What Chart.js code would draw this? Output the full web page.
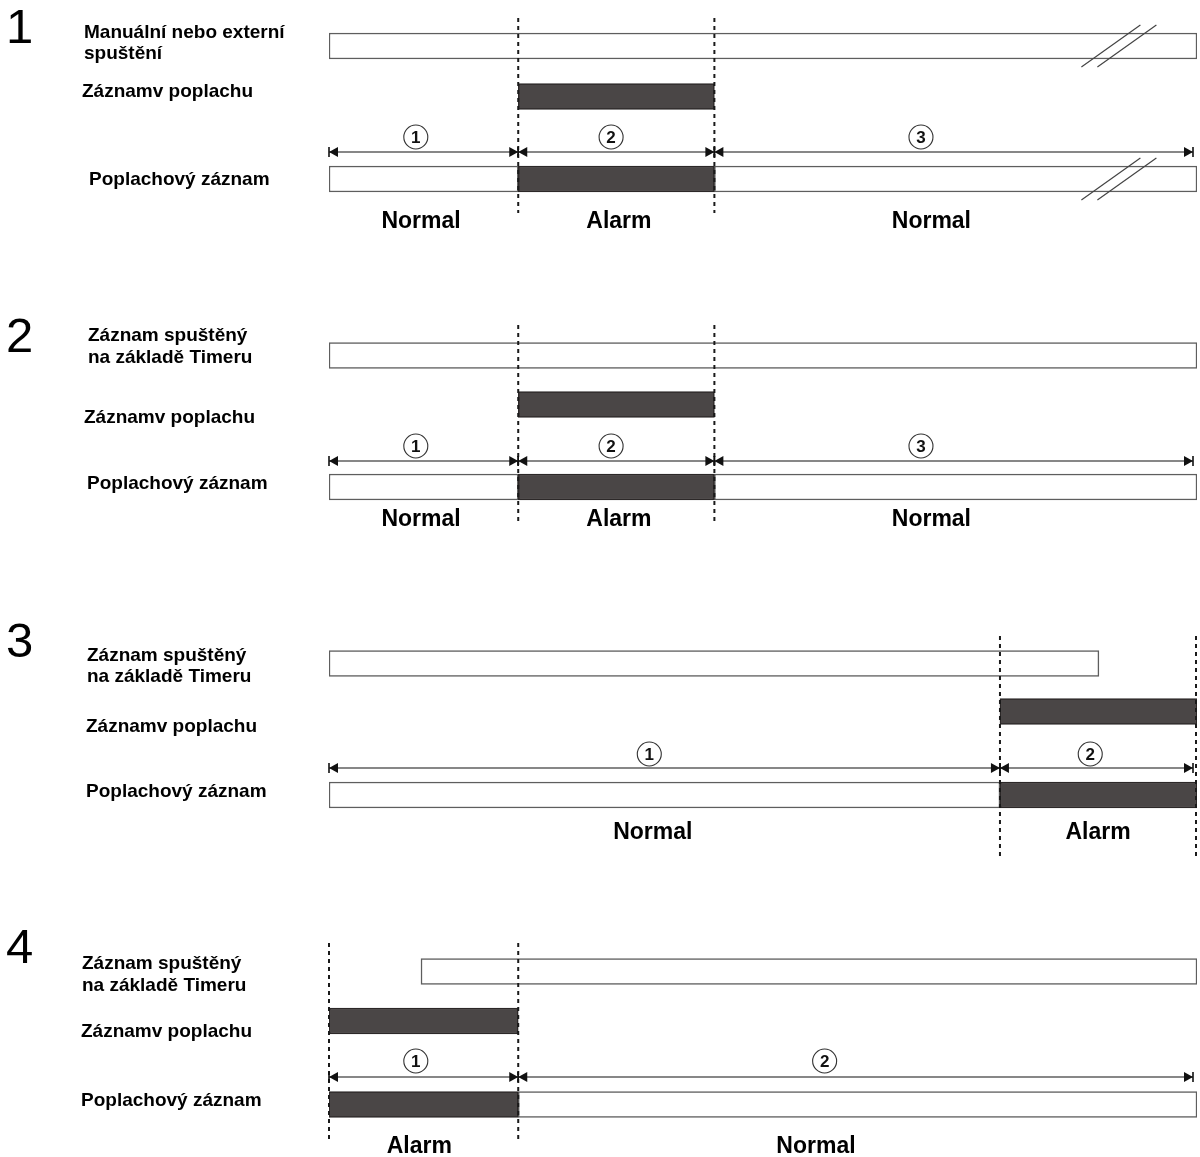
<!DOCTYPE html>
<html>
<head>
<meta charset="utf-8">
<script src="https://cdn.jsdelivr.net/npm/chart.js@4.4.0/dist/chart.umd.min.js"></script>
<style>
  html, body { margin: 0; padding: 0; background: #fff; }
  canvas { display: block; }
</style>
</head>
<body>
<canvas id="timing" width="1200" height="1157"></canvas>
<script>
// Time runs 0..100 across the recording bar in every panel.
const panelNumbers = ['1', '2', '3', '4'];
const triggerNames = [
  ['Manuální nebo externí', 'spuštění'],
  ['Záznam spuštěný', 'na základě Timeru'],
  ['Záznam spuštěný', 'na základě Timeru'],
  ['Záznam spuštěný', 'na základě Timeru'],
];
const alarmName = 'Záznamv poplachu';
const recordName = 'Poplachový záznam';

const triggerIntervals = [[0, 100], [0, 100], [0, 88.7], [10.6, 100]];
const alarmIntervals = [[21.8, 44.4], [21.8, 44.4], [77.3, 100], [0, 21.8]];
const recordBounds = [[0, 21.8, 44.4, 100], [0, 21.8, 44.4, 100], [0, 77.3, 100], [0, 21.8, 100]];
const recordStates = [['Normal', 'Alarm', 'Normal'], ['Normal', 'Alarm', 'Normal'], ['Normal', 'Alarm'], ['Alarm', 'Normal']];
const segmentMarkAt = [[10.0, 32.5, 68.2], [10.0, 32.5, 68.2], [36.9, 87.7], [10.0, 57.1]];
const stateLabelAt = [[10.6, 33.4, 69.4], [10.6, 33.4, 69.4], [37.3, 88.6], [10.4, 56.1]];
const breakAt = [91.0, null, null, null];

// Vertical layout of each panel, in pixels.
const PANELS = [
  { num: 43, trig: 46, alarm: 96.5, arrow: 152, circle: 137, record: 179, state: 228, dash: [18, 213],
    trigX: 84, trigY: [38, 59], alarmX: 82, alarmY: 97, recordX: 89, recordY: 185 },
  { num: 352, trig: 355.5, alarm: 404.5, arrow: 461, circle: 446, record: 487, state: 526, dash: [325, 522],
    trigX: 88, trigY: [341, 363], alarmX: 84, alarmY: 423, recordX: 87, recordY: 489 },
  { num: 657, trig: 663.5, alarm: 711.5, arrow: 768, circle: 754, record: 795, state: 839, dash: [636, 858],
    trigX: 87, trigY: [661, 682], alarmX: 86, alarmY: 732, recordX: 86, recordY: 797 },
  { num: 963, trig: 971.5, alarm: 1021, arrow: 1077, circle: 1061, record: 1104.5, state: 1153, dash: [943, 1140],
    trigX: 82, trigY: [969, 991], alarmX: 81, alarmY: 1037, recordX: 81, recordY: 1106 },
];

const FONT = '"Liberation Sans", Arial, sans-serif';

const whiteBars = [];
const darkBars = [];
PANELS.forEach((p, i) => {
  whiteBars.push({ x: triggerIntervals[i], y: p.trig });
  darkBars.push({ x: alarmIntervals[i], y: p.alarm });
  recordStates[i].forEach((state, k) => {
    const seg = { x: [recordBounds[i][k], recordBounds[i][k + 1]], y: p.record };
    (state === 'Alarm' ? darkBars : whiteBars).push(seg);
  });
});

function drawArrow(ctx, x1, x2, y) {
  ctx.save();
  ctx.strokeStyle = '#111';
  ctx.fillStyle = '#111';
  ctx.lineWidth = 1.2;
  ctx.beginPath();
  ctx.moveTo(x1, y);
  ctx.lineTo(x2, y);
  ctx.stroke();
  [[x1, 1], [x2, -1]].forEach(([x, dir]) => {
    ctx.beginPath();
    ctx.moveTo(x, y);
    ctx.lineTo(x + dir * 9, y - 5);
    ctx.lineTo(x + dir * 9, y + 5);
    ctx.closePath();
    ctx.fill();
    ctx.lineWidth = 1.6;
    ctx.beginPath();
    ctx.moveTo(x, y - 5);
    ctx.lineTo(x, y + 5);
    ctx.stroke();
  });
  ctx.restore();
}

function drawBreak(ctx, cx, cy) {
  ctx.save();
  ctx.strokeStyle = '#444';
  ctx.lineWidth = 1.2;
  [-8, 8].forEach((off) => {
    ctx.beginPath();
    ctx.moveTo(cx + off - 29.5, cy + 21);
    ctx.lineTo(cx + off + 29.5, cy - 21);
    ctx.stroke();
  });
  ctx.restore();
}

const timingPlugin = {
  id: 'timing',
  afterDatasetsDraw(chart) {
    const { ctx } = chart;
    const x = chart.scales.x;

    PANELS.forEach((p, i) => {
      // dotted guides at alarm start / end
      ctx.save();
      ctx.strokeStyle = '#1a1a1a';
      ctx.lineWidth = 2;
      ctx.setLineDash([4, 4]);
      alarmIntervals[i].forEach((t) => {
        const px = Math.min(x.getPixelForValue(t), x.right - 1);
        ctx.beginPath();
        ctx.moveTo(px, p.dash[0]);
        ctx.lineTo(px, p.dash[1]);
        ctx.stroke();
      });
      ctx.restore();

      // break marks
      if (breakAt[i] !== null) {
        const bx = x.getPixelForValue(breakAt[i]);
        drawBreak(ctx, bx, p.trig);
        drawBreak(ctx, bx, p.record);
      }

      // segment arrows
      const bounds = recordBounds[i];
      for (let k = 0; k < bounds.length - 1; k++) {
        const a = x.getPixelForValue(bounds[k]);
        const b = Math.min(x.getPixelForValue(bounds[k + 1]), x.right - 4);
        drawArrow(ctx, a, b, p.arrow);
      }

      // circled segment numbers
      segmentMarkAt[i].forEach((t, k) => {
        const cx = x.getPixelForValue(t);
        ctx.save();
        ctx.fillStyle = '#fff';
        ctx.strokeStyle = '#333';
        ctx.lineWidth = 1.1;
        ctx.beginPath();
        ctx.arc(cx, p.circle, 12, 0, Math.PI * 2);
        ctx.fill();
        ctx.stroke();
        ctx.fillStyle = '#111';
        ctx.font = `bold 17px ${FONT}`;
        ctx.textAlign = 'center';
        ctx.textBaseline = 'alphabetic';
        ctx.fillText(String(k + 1), cx, p.circle + 6);
        ctx.restore();
      });

      ctx.save();
      ctx.fillStyle = '#000';
      ctx.textBaseline = 'alphabetic';

      // state names under the record bar
      ctx.font = `bold 23px ${FONT}`;
      ctx.textAlign = 'center';
      stateLabelAt[i].forEach((t, k) => {
        ctx.fillText(recordStates[i][k], x.getPixelForValue(t), p.state);
      });

      // lane names
      ctx.textAlign = 'left';
      ctx.font = `bold 19px ${FONT}`;
      triggerNames[i].forEach((line, k) => ctx.fillText(line, p.trigX, p.trigY[k]));
      ctx.fillText(alarmName, p.alarmX, p.alarmY);
      ctx.fillText(recordName, p.recordX, p.recordY);

      // panel number
      ctx.font = `49px ${FONT}`;
      ctx.fillText(panelNumbers[i], 6, p.num);
      ctx.restore();
    });
  },
};

const barStyle = {
  borderWidth: 1.5,
  borderSkipped: false,
  grouped: false,
  barPercentage: 1,
  categoryPercentage: 1,
  maxBarThickness: 26,
};

new Chart(document.getElementById('timing').getContext('2d'), {
  type: 'bar',
  data: {
    datasets: [
      { ...barStyle, data: darkBars, backgroundColor: '#4a4646', borderColor: '#2c2828' },
      { ...barStyle, data: whiteBars, backgroundColor: '#ffffff', borderColor: '#5e5e5e' },
    ],
  },
  options: {
    indexAxis: 'y',
    responsive: false,
    animation: false,
    devicePixelRatio: 1,
    layout: { padding: { left: 329, right: 3, top: 0, bottom: 0 } },
    scales: {
      x: { type: 'linear', min: 0, max: 100, display: false, offset: false },
      y: { type: 'linear', min: 0, max: 1157, reverse: true, display: false, offset: false },
    },
    plugins: {
      legend: { display: false },
      tooltip: { enabled: false },
    },
  },
  plugins: [timingPlugin],
});
</script>
</body>
</html>
